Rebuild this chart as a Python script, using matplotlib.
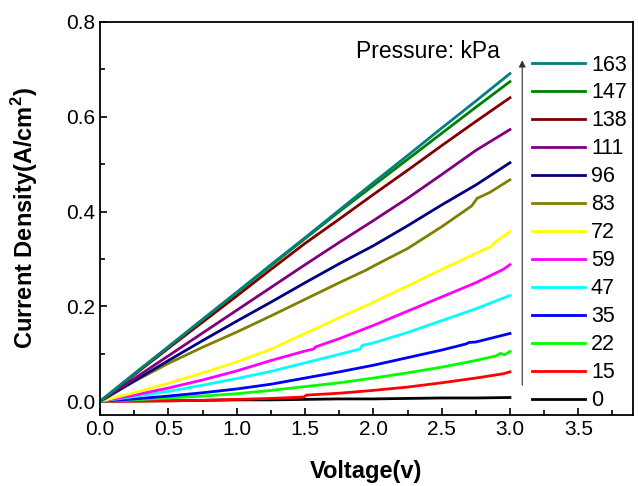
import matplotlib
matplotlib.use("Agg")
import matplotlib.pyplot as plt
from matplotlib.ticker import MultipleLocator

plt.rcParams['font.family'] = ['Liberation Sans', 'DejaVu Sans']
plt.rcParams['mathtext.fontset'] = 'custom'
plt.rcParams['mathtext.rm'] = 'Liberation Sans'
plt.rcParams['mathtext.bf'] = 'Liberation Sans:bold'

# voltage grid (V)
v = [0, 0.25, 0.5, 0.75, 1.0, 1.25, 1.5, 1.75, 2.0, 2.25, 2.5, 2.75, 3.0]

# current density (A/cm2) for each pressure (kPa)
j163 = [0, .058, .115, .173, .230, .288, .345, .403, .461, .518, .576, .633, .691]
j147 = [0, .058, .115, .172, .229, .286, .343, .400, .455, .510, .565, .620, .674]
j138 = [0, .056, .112, .167, .222, .278, .333, .384, .436, .487, .539, .590, .640]
j111 = [0, .048, .096, .144, .192, .240, .288, .335, .381, .428, .478, .529, .573]
j96 = [0, .043, .086, .128, .169, .209, .250, .290, .328, .370, .414, .456, .503]

v83 = [0, 0.25, 0.5, 0.75, 1.0, 1.25, 1.5, 1.75, 1.95, 2.0, 2.25, 2.5, 2.72, 2.76, 2.85, 3.0]
j83 = [0, .042, .080, .114, .146, .180, .215, .250, .277, .285, .322, .368, .412, .428, .440, .467]

v72 = [0, 0.25, 0.5, 0.75, 1.0, 1.25, 1.5, 1.75, 2.0, 2.25, 2.5, 2.75, 2.86, 2.88, 3.0]
j72 = [0, .018, .038, .060, .083, .110, .143, .176, .209, .243, .278, .312, .326, .333, .358]

v59 = [0, 0.25, 0.5, 0.75, 1.0, 1.25, 1.5, 1.56, 1.58, 1.75, 2.0, 2.25, 2.5, 2.75, 2.95, 3.0]
j59 = [0, .013, .028, .045, .064, .086, .106, .110, .115, .132, .160, .190, .220, .250, .278, .288]

v47 = [0, 0.25, 0.5, 0.75, 1.0, 1.25, 1.5, 1.75, 1.9, 1.92, 2.0, 2.25, 2.5, 2.75, 3.0]
j47 = [0, .010, .021, .034, .048, .063, .081, .099, .110, .118, .123, .145, .170, .195, .223]

v35 = [0, 0.25, 0.5, 0.75, 1.0, 1.25, 1.5, 1.75, 2.0, 2.25, 2.5, 2.68, 2.7, 2.75, 3.0]
j35 = [0, .005, .011, .018, .026, .036, .049, .062, .076, .092, .108, .121, .124, .125, .143]

v22 = [0, 0.25, 0.5, 0.75, 1.0, 1.25, 1.5, 1.75, 2.0, 2.25, 2.5, 2.75, 2.9, 2.93, 2.96, 3.0]
j22 = [0, .003, .007, .011, .016, .023, .031, .039, .049, .060, .072, .086, .096, .101, .098, .105]

v15 = [0, 0.25, 0.5, 0.75, 1.0, 1.25, 1.49, 1.51, 1.75, 2.0, 2.25, 2.5, 2.75, 2.95, 3.0]
j15 = [0, .000, .001, .002, .004, .006, .009, .013, .017, .023, .030, .039, .049, .058, .062]

j0 = [0, .001, .001, .002, .003, .003, .004, .005, .005, .006, .007, .007, .008]

series = [
    ("0", v, j0, "black"),
    ("15", v15, j15, "#ff0000"),
    ("22", v22, j22, "#00ff00"),
    ("35", v35, j35, "#0000ff"),
    ("47", v47, j47, "#00ffff"),
    ("59", v59, j59, "#ff00ff"),
    ("72", v72, j72, "#ffff00"),
    ("83", v83, j83, "#808000"),
    ("96", v, j96, "#000080"),
    ("111", v, j111, "#800080"),
    ("138", v, j138, "#800000"),
    ("147", v, j147, "#008000"),
    ("163", v, j163, "#008080"),
]

fig = plt.figure(figsize=(6.38, 4.86), dpi=100)
ax = fig.add_axes([0.157, 0.146, 0.835, 0.809])

handles = []
for name, xs, ys, col in series:
    ln, = ax.plot(xs, ys, color=col, lw=2, label=name)
    handles.append(ln)

ax.set_xlim(0, 3.9)
ax.set_ylim(-0.029, 0.8)
ax.xaxis.set_major_locator(MultipleLocator(0.5))
ax.xaxis.set_minor_locator(MultipleLocator(0.25))
ax.yaxis.set_major_locator(MultipleLocator(0.2))
ax.yaxis.set_minor_locator(MultipleLocator(0.1))
ax.tick_params(which='both', direction='in', width=1.2, labelsize=15)
ax.tick_params(which='major', length=5)
ax.tick_params(which='minor', length=3.5)
for s in ax.spines.values():
    s.set_linewidth(1.3)

ax.set_xlabel("Voltage(v)", fontsize=17, fontweight='bold', labelpad=15)
ax.set_ylabel(r"Current Density(A/cm$^\mathbf{2}$)", fontsize=17, fontweight='bold', labelpad=19)

ax.legend(handles[::-1], [h.get_label() for h in handles[::-1]],
          loc='upper left', bbox_to_anchor=(0.81, 0.917), frameon=False,
          fontsize=15.5, handlelength=2.5, handletextpad=0.25,
          labelspacing=0.325, borderpad=0, borderaxespad=0)

ax.annotate("", xy=(3.09, 0.725), xytext=(3.09, 0.028),
            arrowprops=dict(arrowstyle='-|>', color='#333333', lw=0.8,
                            mutation_scale=10))
ax.text(2.40, 0.738, "Pressure: kPa", fontsize=16.5, ha='center', va='center')

fig.savefig("out.png", dpi=100)
